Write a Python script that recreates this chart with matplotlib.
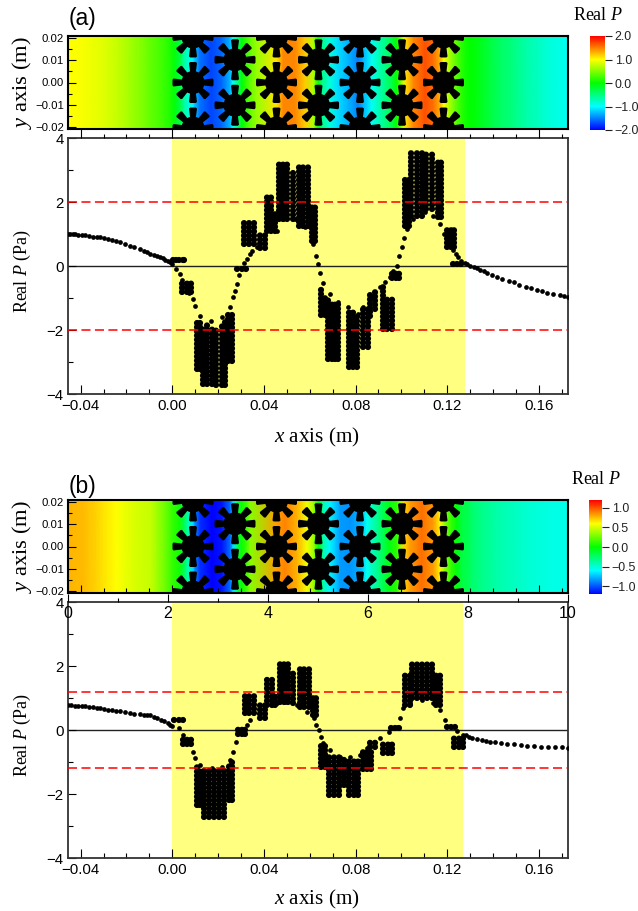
import numpy as np
import matplotlib
matplotlib.use('Agg')
import matplotlib.pyplot as plt
from matplotlib.collections import PolyCollection
from matplotlib.colors import LinearSegmentedColormap
from matplotlib.ticker import MultipleLocator

plt.rcParams['font.family'] = 'Liberation Sans'
plt.rcParams['mathtext.fontset'] = 'custom'
plt.rcParams['mathtext.rm'] = 'Liberation Serif'
plt.rcParams['mathtext.it'] = 'Liberation Serif:italic'
plt.rcParams['lines.scale_dashes'] = False

W, H = 638, 911
XLIM = (-0.0455, 0.1727)
YLIM = (-4, 4)
X_TICKS = [-0.04, 0.00, 0.04, 0.08, 0.12, 0.16]
X_TICK_LABELS = ['\u22120.04', '0.00', '0.04', '0.08', '0.12', '0.16']
Y_TICKS = [-4, -2, 0, 2, 4]
Y_TICK_LABELS = ['\u22124', '\u22122', '0', '2', '4']
HEAT_Y_TICKS = [-0.02, -0.01, 0.0, 0.01, 0.02]
HEAT_Y_LABELS = ['\u22120.02', '\u22120.01', '0.00', '0.01', '0.02']

# Panel (a): pressure along the line
a_left_x = [-.0455,-.0445,-.0435,-.0425,-.0410,-.0395,-.0380,-.0362,-.0345,-.0330,-.0315,-.0298,-.0280,-.0262,-.0245,-.0228,-.0205,-.0185,-.0165,-.0141,-.0125,-.0110,-.0095,-.0080,-.0065,-.0054,-.0042,-.0030,-.0020,-.0010]
a_left_p = [1.0,.995,.99,.985,.98,.97,.955,.94,.92,.91,.895,.87,.84,.81,.78,.74,.69,.64,.58,.53,.48,.43,.39,.35,.31,.28,.24,.20,.16,.12]
a_mid_x = [0,.0016,.0033,.0044,.0055,.0072,.0089,.0099,.0121,.0169,.0215,.0252,.0263,.0273,.0284,.0292,.0303,.0312,.0325,.0339,.0350,.0368,.0455,.0484,.0535,.0579,.0615,.0627,.0637,.0644,.0656,.0688,.0724,.0768,.0812,.0833,.0870,.0906,.0930,.0950,.0965,.0979,.0991,.1001,.1011,.1023,.1052,.1103,.1139,.1168,.1185,.1198,.1212,.1225,.1237,.1248,.1262,.1277]
a_mid_p = [.06,-.09,-.25,-.45,-.67,-.85,-1.03,-1.24,-1.55,-1.73,-1.60,-1.29,-.98,-.77,-.56,-.27,-.06,.08,.22,.375,.46,.58,1.10,1.47,1.47,1.21,.69,.32,.06,-.23,-.54,-.875,-1.14,-1.29,-1.50,-1.29,-.96,-.67,-.50,-.35,-.17,.01,.32,.58,.87,1.16,1.47,1.68,1.57,1.31,1.0,.82,.64,.50,.38,.27,.17,.08]
a_right_x = [.1285,.1300,.1315,.1330,.1345,.1360,.1375,.1395,.1415,.1440,.1470,.1490,.1515,.1545,.1565,.1590,.1615,.1635,.1660,.1690,.1710,.1727]
a_right_p = [.05,.0,-.03,-.06,-.11,-.16,-.21,-.28,-.33,-.40,-.46,-.51,-.58,-.65,-.70,-.74,-.79,-.83,-.87,-.90,-.93,-.96]

a_col_x = [.0002,.0016,.0031,.0045,.0052, .0044,.0063,.0080,
           .0106,.0121,.0132,.0150,.0172,.0193,.0215,.0230,.0244,.0259,
           .0284,.0303,.0321, .0314,.0335,.0356, .0383,.0404, .0412,.0433,.0448,
           .0467,.0484,.0502,.0525,.0553,.0572,.0591,.0608,.0623,
           .0647,.0666,.0681,.0695,.0710,.0724,.0771,.0790,.0807,.0833,.0855,
           .0863,.0884,.0921,.0938,.0957, .0957,.0976,.0991,
           .1015,.1034,.1044,.1066,.1088,.1107,.1132,.1161,.1172,
           .1197,.1216,.1231, .1223,.1241,.1258]
a_col_low = [.15,.15,.15,.15,.15, -.85,-.85,-.85,
             -3.27,-3.27,-3.74,-3.74,-3.74,-3.77,-3.77,-3.77,-3.01,-3.01,
             -.15,-.15,-.15, .64,.64,.64, .50,.50, 1.05,1.05,1.05,
             1.42,1.42,1.42,1.42,1.21,1.21,1.21,.74,.74,
             -1.58,-1.58,-2.96,-2.96,-2.96,-2.96,-3.22,-3.22,-3.22,-2.59,-2.59,
             -1.60,-1.40,-2.02,-2.02,-2.02, -.43,-.43,-.43,
             1.21,1.21,1.52,1.52,1.52,1.73,1.73,1.47,1.47,
             .55,.55,.55, .01,.01,.01]
a_col_high = [.36,.36,.36,.36,.36, -.38,-.38,-.38,
              -1.60,-1.71,-1.81,-1.76,-1.92,-1.92,-1.81,-1.71,-1.45,-1.40,
              -.02,-.02,-.02, 1.52,1.52,1.52, 1.10,1.10, 2.25,2.25,1.73,
              3.31,3.31,3.31,3.0,3.24,3.24,3.24,1.94,1.94,
              -.67,-.875,-.98,-1.08,-1.14,-1.14,-1.29,-1.40,-1.45,-1.29,-1.29,
              -.77,-.77,-.56,-.93,-.93, -.09,-.09,-.09,
              2.75,2.75,3.69,3.69,3.69,3.58,3.58,3.34,3.34,
              1.23,1.23,1.23, .15,.15,.15]

# Panel (b): pressure along the line
b_left_x = [-.0455,-.0440,-.0425,-.0410,-.0395,-.0380,-.0362,-.0345,-.0330,-.0315,-.0298,-.0280,-.0262,-.0245,-.0228,-.0205,-.0185,-.0165,-.0141,-.0125,-.0110,-.0097,-.0080,-.0065,-.0050,-.0035,-.0020,-.0010]
b_left_p = [.77,.77,.765,.76,.76,.75,.73,.72,.70,.68,.66,.64,.62,.60,.58,.55,.53,.51,.49,.48,.47,.46,.42,.37,.32,.27,.21,.17]
b_mid_x = [0,.0028,.0049,.0070,.0090,.0100,.0122,.0173,.0217,.0253,.0265,.0279,.0289,.0305,.0326,.0340,.0457,.0493,.0544,.0588,.0617,.0627,.0639,.0649,.0660,.0689,.0733,.0776,.0820,.0849,.0908,.0944,.0980,.0995,.1009,.1039,.1089,.1140,.1169,.1191,.1220,.1243,.1267]
b_mid_p = [.125,.05,-.16,-.42,-.68,-.89,-1.09,-1.2,-1.15,-.94,-.68,-.36,-.10,.03,.16,.31,.83,.89,.78,.57,.36,.16,0,-.21,-.42,-.62,-.83,-.85,-.78,-.57,-.26,-.05,.10,.36,.68,.83,.94,.83,.62,.31,.10,-.03,-.16]
b_right_x = [.1280,.1295,.1310,.1330,.1350,.1370,.1386,.1410,.1435,.1460,.1490,.1520,.1550,.1580,.1610,.1640,.1670,.1700,.1727]
b_right_p = [-.17,-.21,-.25,-.29,-.32,-.34,-.36,-.39,-.41,-.43,-.45,-.47,-.49,-.51,-.52,-.53,-.54,-.54,-.55]

b_col_x = [.0006,.0028,.0047, .0045,.0064,.0081,
           .0108,.0122,.0137,.0159,.0180,.0202,.0227,.0246,.0260,
           .0287,.0304,.0319, .0316,.0336,.0358, .0384,.0406, .0413,.0435,.0449,
           .0468,.0486,.0503,.0527,.0556,.0573,.0595,.0612,.0627,
           .0649,.0668,.0682,.0704,.0726,.0748,.0772,.0791,.0809,.0831,.0849,.0867,
           .0864,.0886,.0918,.0940,.0961, .0954,.0973,.0988,
           .1017,.1036,.1046,.1068,.1089,.1111,.1133,.1152,.1167,
           .1199,.1217,.1232, .1228,.1250,.1268]
b_col_low = [.26,.26,.26, -.49,-.49,-.49,
             -2.40,-2.40,-2.76,-2.76,-2.76,-2.76,-2.76,-2.24,-2.24,
             -.19,-.19,-.19, .47,.47,.47, .33,.33, .73,.73,.73,
             .83,.83,.83,.78,.68,.68,.68,.42,.42,
             -1.20,-1.20,-2.08,-2.08,-2.08,-1.77,-2.08,-2.08,-2.08,-1.27,-1.27,-1.27,
             -.57,-.57,-.78,-.78,-.78, 0,0,0,
             .73,.73,.94,.94,.94,.94,.94,.73,.73,
             .05,.05,.05, -.59,-.59,-.59]
b_col_high = [.50,.50,.50, -.125,-.125,-.125,
              -1.09,-1.15,-1.20,-1.20,-1.20,-1.20,-1.20,-1.04,-.94,
              .08,.08,.08, 1.20,1.20,1.20, .94,.94, 1.65,1.65,1.15,
              2.14,2.14,2.14,1.82,2.01,2.01,2.01,1.09,1.09,
              -.42,-.42,-.78,-.78,-.78,-.83,-.89,-.89,-.89,-.57,-.57,-.57,
              -.23,-.23,-.33,-.33,-.33, .23,.23,.23,
              1.79,1.79,2.16,2.16,2.16,2.16,2.16,1.79,1.79,
              .21,.21,.21, -.19,-.19,-.19]

# Scatterer centres in the maps (map abscissa 0-10, y in m)
gear_row_h = [2.50, 4.17, 5.84, 7.51]
gear_mid_h = [3.34, 5.01, 6.68]
gear_row_y = [-0.0206, 0.0, 0.0206]
gear_mid_y = [-0.0103, 0.0103]

a_limit = 2.0
b_limit = 1.2
a_cbar_ticks = [-2, -1, 0, 1, 2]
a_cbar_labels = ['\u22122.0', '\u22121.0', '0.0', '1.0', '2.0']
b_cbar_ticks = [-1.0, -0.5, 0.0, 0.5, 1.0]
b_cbar_labels = ['\u22121.0', '\u22120.5', '0.0', '0.5', '1.0']
TOP_SCALE_TICKS = [0, 2, 4, 6, 8, 10]

cmap = LinearSegmentedColormap.from_list(
    'rb', [(0, '#0000ff'), (.25, '#00ffff'), (.5, '#00ff00'), (.75, '#ffff00'), (1, '#ff0000')], N=512)

fig = plt.figure(figsize=(W / 100, H / 100), dpi=100)


def add_ax(l, t, r, b):
    return fig.add_axes([l / W, 1 - b / H, (r - l) / W, (b - t) / H])


def put(x, y, s, **kw):
    return fig.text(x / W, 1 - y / H, s, ha=kw.pop('ha', 'center'), va=kw.pop('va', 'center'), **kw)


def m2h(v):
    return (np.asarray(v) - XLIM[0]) / (XLIM[1] - XLIM[0]) * 10


def gear_polys():
    polys = []
    sx, sy = 50.0, 2210.0
    th = np.linspace(0, 2 * np.pi, 49)
    centres = [(h, y) for h in gear_row_h for y in gear_row_y] + [(h, y) for h in gear_mid_h for y in gear_mid_y]
    for cx, cy in centres:
        polys.append(np.c_[cx + 11.5 * np.cos(th) / sx, cy + 11.5 * np.sin(th) / sy])
        for k in range(8):
            a = k * np.pi / 4
            u = np.array([np.cos(a), np.sin(a)])
            v = np.array([-u[1], u[0]])
            pts = [8 * u - 2.6 * v, 19.5 * u - 4.0 * v, 20.5 * u - 2.8 * v, 20.5 * u + 2.8 * v, 19.5 * u + 4.0 * v, 8 * u + 2.6 * v]
            polys.append(np.array([[cx + p[0] / sx, cy + p[1] / sy] for p in pts]))
    return polys


def panel(xs, ps, col_x, col_low, col_high, limit, span_end, tops, cbar_box, cbar_ticks, cbar_labels, vmax,
          label, label_y, title_xy, xlabel_y, top_scale):
    t0, t1, t2, t3 = tops
    hx = add_ax(68, t0, 568, t1)
    hh = m2h(xs)
    field = np.array([ps, ps])
    mesh = hx.pcolormesh(hh, [-0.03, 0.03], field, shading='gouraud', cmap=cmap, vmin=-vmax, vmax=vmax, rasterized=True)
    hx.add_collection(PolyCollection(gear_polys(), facecolors='black', edgecolors='none', zorder=3))
    hx.set_xlim(0, 10)
    hx.set_ylim(-0.02105, 0.02105)
    hx.set_yticks(HEAT_Y_TICKS)
    hx.set_yticklabels(HEAT_Y_LABELS, fontsize=8.2)
    hx.yaxis.set_minor_locator(MultipleLocator(0.005))
    hx.tick_params(axis='y', which='major', direction='in', length=5.5, width=.8, pad=3, zorder=5)
    hx.tick_params(axis='y', which='minor', direction='in', length=3, width=.8)
    hx.set_xticks([])
    for s in hx.spines.values():
        s.set_linewidth(1.5)
    if top_scale:
        hx.set_xticks(m2h(X_TICKS))
        hx.set_xticks(m2h(np.arange(-0.04, 0.171, 0.01)), minor=True)
        hx.tick_params(axis='x', which='major', direction='in', length=6, width=.8, labelbottom=False)
        hx.tick_params(axis='x', which='minor', direction='in', length=3.5, width=.8)
    put(22, (t0 + t1) / 2, r'$\mathit{y}$ axis (m)', rotation=90, family='Liberation Serif', fontsize=16.2)

    ax = add_ax(68, t2, 568, t3)
    ax.axvspan(0, span_end, color='#ffff80', lw=0, zorder=0)
    ax.axhline(0, color='#222222', lw=1, zorder=1)
    ax.plot(xs, ps, ls='none', marker='o', ms=3.4, mfc='k', mec='k', mew=0, zorder=3)
    inset = 0.05
    ax.vlines(col_x, np.array(col_low) + inset, np.array(col_high) - inset, colors='k', linewidth=4.5,
              linestyles=[(0, (0.01, 3.0))], capstyle='round', zorder=3)
    ax.axhline(limit, color='#ff0000', lw=1.1, ls=(0, (6.5, 3.2)), zorder=4)
    ax.axhline(-limit, color='#ff0000', lw=1.1, ls=(0, (6.5, 3.2)), zorder=4)
    ax.set_xlim(*XLIM)
    ax.set_ylim(*YLIM)
    ax.set_xticks(X_TICKS)
    ax.set_xticklabels(X_TICK_LABELS, fontsize=10.8)
    ax.set_xticks(np.arange(-0.04, 0.171, 0.01), minor=True)
    ax.set_yticks(Y_TICKS)
    ax.set_yticklabels(Y_TICK_LABELS, fontsize=10.8)
    ax.yaxis.set_minor_locator(MultipleLocator(1))
    ax.tick_params(axis='x', which='major', direction='in', length=6.5, width=.8, pad=3.5)
    ax.tick_params(axis='x', which='minor', direction='in', length=3.5, width=.8)
    ax.tick_params(axis='y', which='major', direction='in', length=5.5, width=.8, pad=3)
    ax.tick_params(axis='y', which='minor', direction='in', length=3.5, width=.8)
    for s in ax.spines.values():
        s.set_linewidth(1.3)
        s.set_color('#333333')
    put(22, (t2 + t3) / 2 + 5, r'Real $\mathit{P}$ (Pa)', rotation=90, family='Liberation Serif', fontsize=13)
    put(317, xlabel_y, r'$\mathit{x}$ axis (m)', family='Liberation Serif', fontsize=15.2)

    top = ax.twiny()
    top.set_xlim(0, 10)
    if top_scale:
        top.set_xticks(TOP_SCALE_TICKS)
        top.set_xticklabels([str(t) for t in TOP_SCALE_TICKS], fontsize=11.5)
        top.xaxis.set_minor_locator(MultipleLocator(1))
        top.tick_params(axis='x', which='major', direction='out', length=5.5, width=.8, pad=-19, zorder=6)
        top.tick_params(axis='x', which='minor', direction='out', length=3, width=.8)
    else:
        top.set_xticks(m2h(X_TICKS))
        top.set_xticklabels([])
        top.set_xticks(m2h(np.arange(-0.04, 0.171, 0.01)), minor=True)
        top.tick_params(axis='x', which='major', direction='out', length=6.5, width=.8)
        top.tick_params(axis='x', which='minor', direction='out', length=3, width=.8)
    top.set_zorder(ax.get_zorder() + 1)
    for s in top.spines.values():
        s.set_visible(False)

    cax = add_ax(*cbar_box)
    cb = fig.colorbar(mesh, cax=cax)
    cb.set_ticks(cbar_ticks)
    cb.set_ticklabels(cbar_labels, fontsize=8.9)
    cb.ax.tick_params(length=5, width=.8, pad=2, colors='#222222')
    cb.outline.set_visible(False)
    put(title_xy[0], title_xy[1], r'Real $\mathit{P}$', family='Liberation Serif', fontsize=13)
    put(69, label_y, label, ha='left', fontsize=16.5)


panel(a_left_x + a_mid_x + a_right_x, a_left_p + a_mid_p + a_right_p, a_col_x, a_col_low, a_col_high,
      a_limit, 0.1277, (36, 129, 138, 394), (590, 36, 605, 130), a_cbar_ticks, a_cbar_labels, 2.0,
      '(a)', 19, (598, 15), 437, False)
panel(b_left_x + b_mid_x + b_right_x, b_left_p + b_mid_p + b_right_p, b_col_x, b_col_low, b_col_high,
      b_limit, 0.1267, (500, 593, 602, 858), (589, 500, 602, 594), b_cbar_ticks, b_cbar_labels, 1.2,
      '(b)', 487, (596, 479), 899, True)

fig.savefig('out.png', dpi=100)
